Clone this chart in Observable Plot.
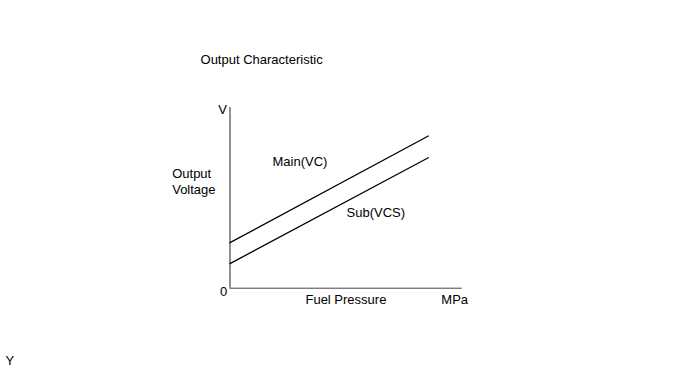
<!DOCTYPE html>
<html>
<head>
<meta charset="utf-8">
<script src="https://cdn.jsdelivr.net/npm/d3@7"></script>
<script src="https://cdn.jsdelivr.net/npm/@observablehq/plot@0.6"></script>
<style>
  html, body { margin: 0; padding: 0; background: #fff; }
  #chart { width: 690px; height: 367px; }
</style>
</head>
<body>
<div id="chart"></div>
<script>
// Series: output voltage vs fuel pressure (arbitrary units)
const series = ["Main(VC)", "Sub(VCS)"];
const pressure = [0, 8.54];
const mainVoltage = [1.26, 4.21];
const subVoltage = [0.68, 3.61];

// Labels
const titleText = "Output Characteristic";
const yUnit = "V";
const zeroLabel = "0";
const yLabel = "Output\nVoltage";
const xLabel = "Fuel Pressure";
const xUnit = "MPa";
const stray = "Y";

const xMax = 10, yMax = 5;

const lineData = [
  ...pressure.map((p, i) => ({series: series[0], x: p, y: mainVoltage[i]})),
  ...pressure.map((p, i) => ({series: series[1], x: p, y: subVoltage[i]}))
];

const font = "Arial, 'Liberation Sans', sans-serif";

const chart = Plot.plot({
  width: 690,
  height: 367,
  marginLeft: 229.5,
  marginRight: 228.3,
  marginTop: 107,
  marginBottom: 79.3,
  style: {fontFamily: font, fontSize: "13px", color: "#000", background: "#fff", overflow: "visible"},
  x: {domain: [0, xMax], axis: null},
  y: {domain: [0, yMax], axis: null},
  marks: [
    Plot.ruleX([0], {y1: 0, y2: yMax, stroke: "#222", strokeWidth: 1}),
    Plot.ruleY([0], {x1: 0, x2: xMax, stroke: "#444", strokeWidth: 1}),
    Plot.line(lineData, {x: "x", y: "y", z: "series", stroke: "#000", strokeWidth: 1.3}),
    Plot.text([titleText], {x: 1.36, y: 6.31, text: d => d, textAnchor: "middle", clip: false}),
    Plot.text([yUnit], {x: -0.32, y: 4.93, text: d => d, textAnchor: "middle"}),
    Plot.text([zeroLabel], {x: -0.28, y: -0.09, text: d => d, textAnchor: "middle"}),
    Plot.text([yLabel], {x: -2.49, y: 2.98, text: d => d, textAnchor: "start", lineHeight: 1.23}),
    Plot.text([series[0]], {x: 1.83, y: 3.51, text: d => d, textAnchor: "start"}),
    Plot.text([series[1]], {x: 5.02, y: 2.09, text: d => d, textAnchor: "start"}),
    Plot.text([xLabel], {x: 3.25, y: -0.33, text: d => d, textAnchor: "start"}),
    Plot.text([xUnit], {x: 9.1, y: -0.33, text: d => d, textAnchor: "start"}),
    Plot.text([stray], {x: -9.67, y: -2.0, text: d => d, textAnchor: "start"})
  ]
});
document.getElementById("chart").appendChild(chart);
</script>
</body>
</html>
